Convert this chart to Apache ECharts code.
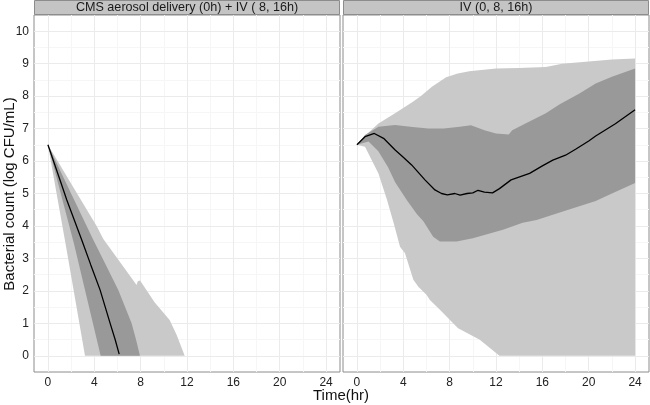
<!DOCTYPE html>
<html>
<head>
<meta charset="utf-8">
<script src="https://cdn.jsdelivr.net/npm/echarts@6/dist/echarts.min.js"></script>
<style>html,body{margin:0;padding:0;background:#fff}#c{width:650px;height:405px}</style>
</head>
<body>
<div id="c"></div>
<script>
// ---- data ----
const panelTitles = ['CMS aerosol delivery (0h) + IV ( 8, 16h)', 'IV (0, 8, 16h)'];
const timeTicks = [0, 4, 8, 12, 16, 20, 24];
const timeMinor = [2, 6, 10, 14, 18, 22];
const countTicks = [0, 1, 2, 3, 4, 5, 6, 7, 8, 9, 10];
const countMinor = [0.5, 1.5, 2.5, 3.5, 4.5, 5.5, 6.5, 7.5, 8.5, 9.5];
const xTitle = 'Time(hr)';
const yTitle = 'Bacterial count (log CFU/mL)';

// Panel 1: CMS aerosol delivery
const aeroMedian = [[0,6.5],[1,5.46],[1.63,4.8],[2.92,3.57],[3.7,2.8],[4.5,2.03],[5.37,1.0],[5.8,0.5],[6.15,0.05]];
const aeroOuterUpper = [[0,6.5],[2.1,5.25],[4.2,4.0],[4.78,3.6],[6.2,2.9],[7.65,2.18],[7.75,2.3],[7.95,2.32],[9.2,1.65],[10.5,1.1],[11.1,0.65],[11.8,0]];
const aeroOuterLower = [[0,6.5],[1.5,3.5],[3.2,0],[11.8,0]];
const aeroInnerUpper = [[0,6.5],[2.0,5.0],[3.92,3.57],[5.0,2.8],[6.07,2.03],[7.22,1.0],[7.6,0.5],[7.94,0]];
const aeroInnerLower = [[0,6.5],[2.25,3.45],[4.55,0],[7.94,0]];

// Panel 2: IV
const ivMedian = [[0,6.5],[0.7,6.75],[1.5,6.85],[2.3,6.7],[3.3,6.34],[4.0,6.12],[4.72,5.88],[5.87,5.42],[6.73,5.11],[7.3,5.0],[7.8,4.96],[8.45,5.0],[8.9,4.95],[9.5,5.0],[10.0,5.02],[10.45,5.1],[11.0,5.04],[11.7,5.02],[12.3,5.15],[13.3,5.42],[14.9,5.62],[16.0,5.85],[16.9,6.03],[18.0,6.18],[18.9,6.37],[20.0,6.62],[20.6,6.77],[22.3,7.15],[24,7.58]];
const ivOuterUpper = [[0,6.5],[0.7,6.78],[1.86,7.16],[3.29,7.47],[4.8,7.82],[5.5,8.0],[6.5,8.3],[7.7,8.58],[8.7,8.7],[9.7,8.77],[12.0,8.85],[14.0,8.87],[16.3,8.9],[17.7,9.0],[20.0,9.07],[22.0,9.13],[24,9.16]];
const ivOuterLower = [[0,6.5],[0.7,6.44],[1.86,5.62],[2.6,4.8],[3.2,4.05],[3.72,3.36],[4.15,3.16],[4.87,2.34],[5.3,2.13],[6.0,1.88],[6.3,1.72],[7.16,1.42],[8.73,0.85],[10.6,0.49],[12.3,0],[24,0]];
const ivInnerUpper = [[0,6.5],[0.7,6.8],[1.86,7.06],[3.29,7.11],[4.8,7.05],[6.15,7.0],[7.5,7.0],[8.88,7.06],[9.84,7.1],[10.6,7.0],[11.0,6.95],[12.0,6.85],[13.1,6.82],[13.4,6.95],[14.5,7.15],[16.3,7.47],[17.5,7.75],[19.2,8.08],[20.6,8.39],[22.0,8.6],[24,8.85]];
const ivInnerLower = [[0,6.5],[1.0,6.6],[1.85,6.3],[2.7,5.8],[3.3,5.35],[4.3,4.8],[5.2,4.35],[5.72,4.15],[6.58,3.67],[7.16,3.52],[8.6,3.52],[10.0,3.62],[12.6,3.88],[14.3,4.1],[15.5,4.18],[17.7,4.44],[20.6,4.77],[22.0,5.0],[24,5.32]];

// ---- styles ----
const FONT = '"Liberation Sans", Arial, sans-serif';
const LIGHT = '#C9C9C9';
const DARK = '#999999';
const MAJOR = '#EBEBEB';
const MINOR = '#F6F6F6';
const panels = [
  {median: aeroMedian, ou: aeroOuterUpper, ol: aeroOuterLower, iu: aeroInnerUpper, il: aeroInnerLower},
  {median: ivMedian, ou: ivOuterUpper, ol: ivOuterLower, iu: ivInnerUpper, il: ivInnerLower}
];
const gridBoxes = [{left: 34, top: 15, width: 306, height: 357}, {left: 343, top: 15, width: 306, height: 357}];

function band(upper, lower, color, i, z) {
  const poly = upper.concat(lower.slice().reverse());
  return {
    type: 'custom', xAxisIndex: i, yAxisIndex: i, z: z, silent: true, clip: true,
    data: poly,
    renderItem: function (params, api) {
      if (params.dataIndex !== 0) return null;
      return {type: 'polygon', shape: {points: poly.map(p => api.coord(p))}, style: {fill: color}};
    }
  };
}

const grids = [], xAxes = [], yAxes = [], series = [], graphics = [];
gridBoxes.forEach((g, i) => {
  grids.push(Object.assign({show: true, borderColor: '#8c8c8c', borderWidth: 1, backgroundColor: '#fff'}, g));
  xAxes.push({
    type: 'value', gridIndex: i, min: -1.2, max: 25.2,
    axisLine: {show: false},
    axisTick: {show: true, length: 3, lineStyle: {color: '#555'}, customValues: timeTicks},
    axisLabel: {customValues: timeTicks, color: '#222', fontFamily: FONT, fontSize: 12, margin: 5},
    splitLine: {show: false}
  });
  yAxes.push({
    type: 'value', gridIndex: i, min: -0.5, max: 10.5,
    axisLine: {show: false},
    axisTick: {show: i === 0, length: 3, lineStyle: {color: '#555'}, customValues: countTicks},
    axisLabel: {show: i === 0, customValues: countTicks, color: '#222', fontFamily: FONT, fontSize: 12, margin: 5},
    splitLine: {show: false}
  });
  const ml = [].concat(
    timeMinor.map(v => ({xAxis: v, lineStyle: {color: MINOR}})),
    countMinor.map(v => ({yAxis: v, lineStyle: {color: MINOR}})),
    timeTicks.map(v => ({xAxis: v, lineStyle: {color: MAJOR}})),
    countTicks.map(v => ({yAxis: v, lineStyle: {color: MAJOR}}))
  );
  series.push({
    type: 'line', xAxisIndex: i, yAxisIndex: i, data: [], z: 1, silent: true,
    markLine: {z: 1, silent: true, symbol: ['none', 'none'], label: {show: false}, animation: false,
      lineStyle: {type: 'solid', width: 1}, data: ml}
  });
  const p = panels[i];
  series.push(band(p.ou, p.ol, LIGHT, i, 2));
  series.push(band(p.iu, p.il, DARK, i, 3));
  series.push({type: 'line', xAxisIndex: i, yAxisIndex: i, z: 6, data: p.median, symbol: 'none',
    showSymbol: false, silent: true, lineStyle: {color: '#000', width: 1.3}});
  // strip
  graphics.push({type: 'rect', shape: {x: g.left + 0.5, y: 0.5, width: g.width - 1, height: 14}, z: 10,
    style: {fill: '#C4C4C4', stroke: '#8c8c8c', lineWidth: 1}});
  graphics.push({type: 'text', x: g.left + g.width / 2, y: 8, z: 11,
    style: {text: panelTitles[i], font: '12.6px ' + FONT, fill: '#1a1a1a', textAlign: 'center', textVerticalAlign: 'middle'}});
});
graphics.push({type: 'text', x: 10, y: 194, rotation: Math.PI / 2,
  style: {text: yTitle, font: '15px ' + FONT, fill: '#111', textAlign: 'center', textVerticalAlign: 'middle'}});
graphics.push({type: 'text', x: 341, y: 396,
  style: {text: xTitle, font: '15px ' + FONT, fill: '#111', textAlign: 'center', textVerticalAlign: 'middle'}});

const chart = echarts.init(document.getElementById('c'), null, {renderer: 'canvas'});
chart.setOption({
  animation: false,
  backgroundColor: '#fff',
  grid: grids, xAxis: xAxes, yAxis: yAxes, series: series, graphic: graphics
});
</script>
</body>
</html>
